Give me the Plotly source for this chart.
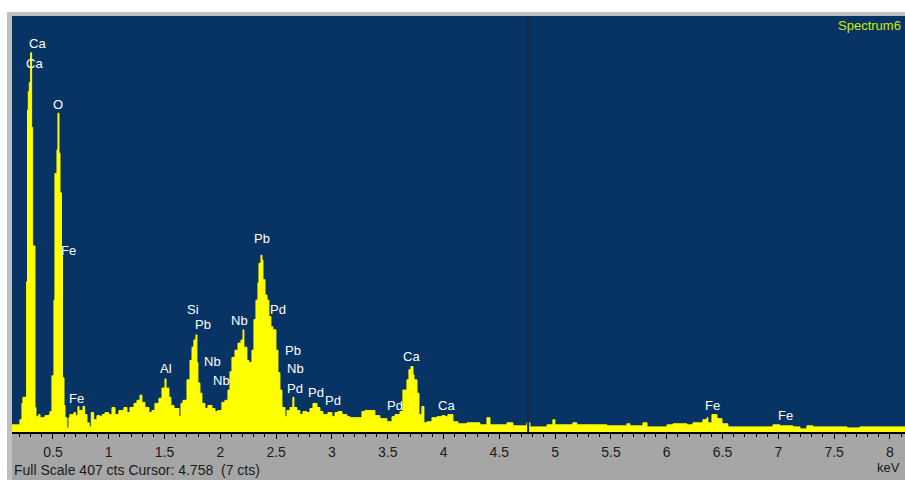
import plotly.graph_objects as go

# ---- spectrum data (keV, counts); drawn as steps ----
energy_kev = [
    0.133, 0.204, 0.222, 0.231, 0.264, 0.272, 0.279, 0.288, 0.300, 0.309,
    0.318, 0.339, 0.348, 0.372, 0.384, 0.428, 0.464, 0.473, 0.491, 0.509,
    0.518, 0.536, 0.545, 0.554, 0.563, 0.576, 0.585, 0.599, 0.608, 0.625,
    0.643, 0.652, 0.688, 0.703, 0.724, 0.733, 0.769, 0.784, 0.805, 0.825,
    0.843, 0.865, 0.894, 0.921, 0.940, 0.966, 0.999, 1.029, 1.056, 1.091,
    1.136, 1.163, 1.190, 1.226, 1.253, 1.280, 1.297, 1.324, 1.360, 1.387,
    1.414, 1.450, 1.477, 1.504, 1.513, 1.539, 1.557, 1.584, 1.629, 1.647,
    1.665, 1.701, 1.728, 1.746, 1.763, 1.781, 1.790, 1.799, 1.817, 1.835,
    1.862, 1.889, 1.925, 1.952, 1.978, 2.014, 2.041, 2.068, 2.086, 2.104,
    2.131, 2.158, 2.185, 2.203, 2.211, 2.238, 2.256, 2.283, 2.301, 2.319,
    2.337, 2.346, 2.364, 2.373, 2.382, 2.400, 2.418, 2.435, 2.453, 2.471,
    2.498, 2.516, 2.534, 2.552, 2.579, 2.597, 2.624, 2.650, 2.659, 2.686,
    2.713, 2.740, 2.776, 2.803, 2.830, 2.866, 2.892, 2.919, 2.964, 3.000,
    3.027, 3.054, 3.090, 3.134, 3.161, 3.269, 3.296, 3.385, 3.430, 3.493,
    3.538, 3.565, 3.610, 3.636, 3.672, 3.690, 3.708, 3.726, 3.735, 3.762,
    3.780, 3.806, 3.824, 3.851, 3.896, 3.941, 3.986, 4.013, 4.039, 4.084,
    4.129, 4.210, 4.326, 4.389, 4.416, 4.568, 4.622, 4.747, 4.774, 4.927,
    4.980, 4.998, 5.159, 5.195, 5.464, 5.643, 5.670, 5.787, 5.823, 6.002,
    6.056, 6.181, 6.235, 6.324, 6.360, 6.369, 6.405, 6.450, 6.495, 6.548,
    6.952, 7.014, 7.131, 7.194, 7.256, 7.310, 7.615, 7.731, 8.135,
]
counts = [
    7, 12, 28, 34, 147, 315, 333, 342, 371, 298,
    182, 24, 15, 17, 14, 16, 17, 20, 55, 129,
    253, 276, 312, 273, 234, 175, 53, 26, 14, 4,
    14, 17, 19, 16, 25, 21, 25, 17, 9, 5,
    19, 12, 16, 15, 17, 19, 17, 24, 17, 21,
    24, 19, 24, 28, 31, 36, 29, 24, 19, 21,
    28, 33, 43, 52, 43, 34, 26, 23, 15, 28,
    31, 51, 70, 83, 90, 95, 68, 48, 38, 28,
    23, 26, 23, 20, 21, 29, 31, 41, 59, 73,
    80, 87, 90, 100, 83, 70, 68, 80, 110, 129,
    146, 165, 173, 168, 149, 134, 129, 113, 103, 100,
    80, 58, 41, 24, 15, 21, 24, 34, 24, 21,
    17, 20, 19, 23, 28, 24, 20, 17, 19, 15,
    19, 20, 17, 15, 14, 20, 21, 16, 13, 10,
    15, 17, 20, 41, 51, 61, 64, 56, 51, 38,
    17, 25, 9, 10, 14, 15, 16, 15, 17, 10,
    8, 9, 7, 14, 7, 9, 6, 9, 5, 7,
    12, 7, 9, 7, 6, 8, 6, 9, 5, 7,
    8, 7, 9, 12, 14, 9, 17, 13, 8, 5,
    7, 6, 5, 3, 6, 5, 4, 5, 5,
]

# ---- peak labels ----
label_text = ["Ca", "Ca", "O", "Fe", "Fe", "Al", "Si", "Pb", "Nb", "Nb", "Nb",
              "Pb", "Pd", "Pb", "Nb", "Pd", "Pd", "Pd", "Pd", "Ca", "Ca", "Fe", "Fe"]
label_kev = [0.363, 0.339, 0.547, 0.643, 0.712, 1.510, 1.754, 1.844, 1.931, 2.012, 2.176,
             2.370, 2.513, 2.651, 2.677, 2.668, 2.857, 3.006, 3.565, 3.714, 4.028, 6.411, 7.068]
label_cts = [380, 361, 320, 178, 33, 62, 120, 105, 69, 50, 109,
             189, 120, 80, 62, 43, 39, 31, 26, 74, 26, 26, 16]

tick_vals = [0.5, 1, 1.5, 2, 2.5, 3, 3.5, 4, 4.5, 5, 5.5, 6, 6.5, 7, 7.5, 8]
tick_text = ["0.5", "1", "1.5", "2", "2.5", "3", "3.5", "4", "4.5", "5",
             "5.5", "6", "6.5", "7", "7.5", "8"]

full_scale = 407
cursor_kev = 4.758
cursor_cts = 7
spectrum_name = "Spectrum6"

W, H = 905, 480
ML, MR, MT, MB = 12, 0, 16, 48
PW, PH = W - ML - MR, H - MT - MB

fig = go.Figure()
fig.add_trace(go.Scatter(
    x=energy_kev, y=counts, mode="lines", line_shape="hv",
    line=dict(color="#ffff00", width=1), fill="tozeroy", fillcolor="#ffff00",
    hoverinfo="skip", showlegend=False,
))

annotations = []
for t, xk, yc in zip(label_text, label_kev, label_cts):
    annotations.append(dict(x=xk, y=yc, xref="x", yref="y", text=t, showarrow=False,
                            font=dict(family="Liberation Sans", size=13, color="#ffffff"),
                            xanchor="center", yanchor="middle"))

annotations.append(dict(x=(836 - ML) / PW, y=(MT + PH - 25) / PH, xref="paper", yref="paper",
                        text=spectrum_name, showarrow=False, xanchor="left", yanchor="middle",
                        font=dict(family="Liberation Sans", size=13, color="#d4ea00")))
annotations.append(dict(x=0, y=-(470 - (MT + PH)) / PH, xref="paper", yref="paper",
                        text=f"Full Scale {full_scale} cts Cursor: {cursor_kev}  ({cursor_cts} cts)",
                        showarrow=False, xanchor="left", yanchor="middle",
                        font=dict(family="Liberation Sans", size=14, color="#1a1a1a")))
annotations.append(dict(x=1, y=-(468 - (MT + PH)) / PH, xref="paper", yref="paper",
                        text="keV", showarrow=False, xanchor="right", yanchor="middle",
                        xshift=-3,
                        font=dict(family="Liberation Sans", size=13, color="#1a1a1a")))

shapes = [
    # bottom grey panel
    dict(type="rect", xref="paper", yref="paper", x0=0, x1=1, y0=-MB / PH, y1=0,
         fillcolor="#a6a6a6", line=dict(width=0), layer="below"),
    # left light-grey strip
    dict(type="rect", xref="paper", yref="paper", x0=-5 / PW, x1=0, y0=-MB / PH, y1=1 + 4 / PH,
         fillcolor="#c0c0c0", line=dict(width=0), layer="below"),
    # top light-grey strip
    dict(type="rect", xref="paper", yref="paper", x0=-5 / PW, x1=1, y0=1, y1=1 + 4 / PH,
         fillcolor="#c0c0c0", line=dict(width=0), layer="below"),
    # cursor line
    dict(type="line", xref="x", yref="paper", x0=cursor_kev, x1=cursor_kev, y0=0, y1=1,
         line=dict(color="#1c2a3e", width=2), layer="above"),
]

fig.update_layout(
    width=W, height=H, autosize=False,
    margin=dict(l=ML, r=MR, t=MT, b=MB, pad=0),
    paper_bgcolor="#ffffff", plot_bgcolor="#073464",
    annotations=annotations, shapes=shapes, showlegend=False,
    xaxis=dict(range=[0.133, 8.135], showgrid=False, zeroline=False,
               showline=True, linecolor="#000000", linewidth=2,
               ticks="outside", ticklen=5, tickwidth=1, tickcolor="#000000",
               tickvals=tick_vals, ticktext=tick_text, ticklabelstandoff=1,
               tickfont=dict(family="Liberation Sans", size=14, color="#1a1a1a"),
               minor=dict(dtick=0.1, ticks="outside", ticklen=3, tickcolor="#000000", tickwidth=1),
               fixedrange=True),
    yaxis=dict(range=[0, full_scale], visible=False, showgrid=False, zeroline=False, fixedrange=True),
)

fig.write_html("out.html", config={"displayModeBar": False},
               post_script="document.body.style.margin='0';document.body.style.overflow='hidden';")
